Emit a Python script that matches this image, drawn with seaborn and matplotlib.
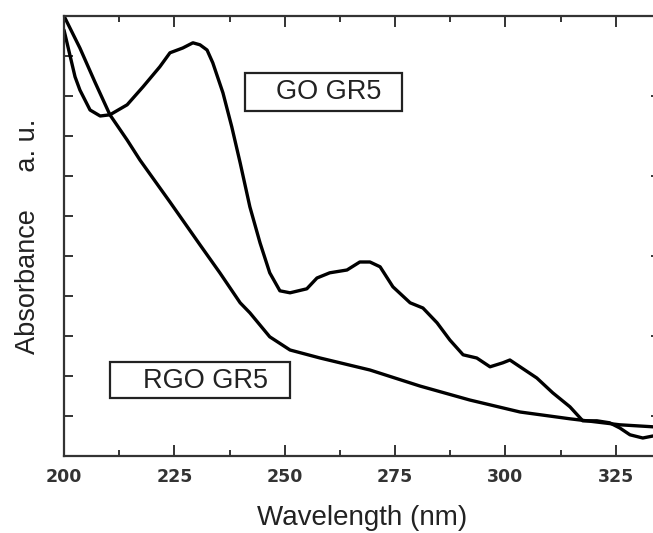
import numpy as np
import pandas as pd
import matplotlib
matplotlib.use("Agg")
import matplotlib.pyplot as plt
import seaborn as sns
from matplotlib.patches import Rectangle
from matplotlib.ticker import MultipleLocator, FixedLocator

# ---- data ----
go_wavelength = [200.0, 202.5, 203.6, 205.9, 208.2, 210.4, 214.3, 217.9, 221.7, 224.0,
                 226.9, 229.2, 230.8, 232.4, 233.7, 236.0, 238.0, 239.9, 242.1, 244.4,
                 246.6, 248.9, 251.2, 255.0, 257.3, 260.2, 264.1, 267.0, 269.3, 271.6,
                 274.5, 278.4, 281.3, 284.5, 287.4, 290.4, 293.5, 296.5, 299.4, 301.0,
                 303.3, 307.1, 310.7, 314.6, 317.5, 320.7, 323.6, 325.9, 328.2, 331.1, 333.4]
go_absorbance = [10.65, 9.48, 9.15, 8.65, 8.50, 8.53, 8.78, 9.23, 9.73, 10.08,
                 10.20, 10.33, 10.28, 10.15, 9.83, 9.08, 8.23, 7.33, 6.23, 5.33,
                 4.58, 4.13, 4.08, 4.18, 4.45, 4.58, 4.65, 4.85, 4.85, 4.73,
                 4.23, 3.83, 3.70, 3.33, 2.90, 2.53, 2.45, 2.23, 2.33, 2.40,
                 2.23, 1.95, 1.58, 1.23, 0.88, 0.88, 0.83, 0.70, 0.53, 0.45, 0.50]

rgo_wavelength = [200.0, 203.6, 207.0, 210.4, 214.3, 217.2, 224.0, 230.8, 235.3, 239.9,
                  242.1, 246.6, 251.2, 258.0, 269.3, 280.6, 291.9, 303.3, 314.6, 325.9, 333.4]
rgo_absorbance = [11.0, 10.2, 9.35, 8.53, 7.90, 7.40, 6.35, 5.28, 4.58, 3.83,
                  3.58, 2.98, 2.65, 2.45, 2.15, 1.75, 1.40, 1.10, 0.93, 0.78, 0.73]

x_ticks = [200, 225, 250, 275, 300, 325]
x_label = "Wavelength (nm)"
y_label = "Absorbance     a. u."
go_name = "GO GR5"
rgo_name = "RGO GR5"

df = pd.concat([
    pd.DataFrame({"wavelength": go_wavelength, "absorbance": go_absorbance, "sample": go_name}),
    pd.DataFrame({"wavelength": rgo_wavelength, "absorbance": rgo_absorbance, "sample": rgo_name}),
])

sns.set_style("ticks")
plt.rcParams["font.family"] = ["Liberation Sans", "DejaVu Sans"]

W, H = 653, 533
fig = plt.figure(figsize=(W / 100, H / 100), dpi=100)
ax = fig.add_axes([64 / W, 77 / H, 596 / W, 440 / H])

sns.lineplot(data=df, x="wavelength", y="absorbance", hue="sample",
             palette={go_name: "black", rgo_name: "black"}, linewidth=2.4,
             legend=False, ax=ax, sort=False, estimator=None)

ax.set_xlim(200, 335)
ax.set_ylim(0, 11)

dark = "#333333"
for s in ["left", "bottom", "top", "right"]:
    ax.spines[s].set_visible(True)
    ax.spines[s].set_color(dark)
    ax.spines[s].set_linewidth(1.6)

ax.xaxis.set_major_locator(FixedLocator(x_ticks))
ax.xaxis.set_minor_locator(MultipleLocator(12.5))
ax.yaxis.set_major_locator(FixedLocator([1, 3, 5, 7, 9]))
ax.yaxis.set_minor_locator(FixedLocator([2, 4, 6, 8, 10]))

ax.tick_params(axis="x", which="major", direction="in", length=8, width=1.4,
               top=True, bottom=True, color=dark, pad=9)
ax.tick_params(axis="x", which="minor", direction="in", length=4, width=1.4,
               top=True, bottom=True, color=dark)
ax.tick_params(axis="y", which="major", direction="in", length=6.5, width=1.4,
               left=True, right=True, labelleft=False, color=dark)
ax.tick_params(axis="y", which="minor", direction="in", length=6.5, width=1.4,
               left=True, right=False, color=dark)

ax.set_xticklabels([str(t) for t in x_ticks], fontfamily="DejaVu Sans",
                   fontweight="bold", fontsize=12.5, color=dark)

ax.set_xlabel(x_label, fontsize=20, color="#222222", labelpad=13)
ax.set_ylabel(y_label, fontsize=19.5, color="#222222", labelpad=13)

# annotation boxes
ax.add_patch(Rectangle((0.3037, 0.784), 0.2633, 0.086, transform=ax.transAxes,
                       fill=False, edgecolor="#222222", linewidth=1.6))
ax.text(0.4438, 0.827, go_name, transform=ax.transAxes, ha="center", va="center",
        fontsize=19.5, color="#222222")
ax.add_patch(Rectangle((0.077, 0.132), 0.302, 0.0816, transform=ax.transAxes,
                       fill=False, edgecolor="#222222", linewidth=1.6))
ax.text(0.2374, 0.170, rgo_name, transform=ax.transAxes, ha="center", va="center",
        fontsize=19.5, color="#222222")

fig.savefig("out.png", dpi=100)
